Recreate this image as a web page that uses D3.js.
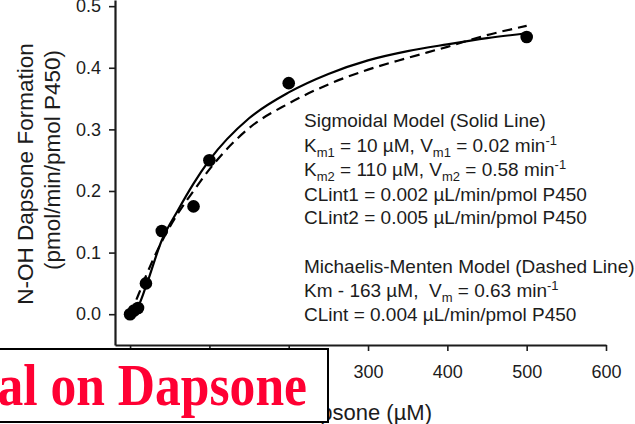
<!DOCTYPE html>
<html lang="en">
<head>
<meta charset="utf-8">
<title>N-OH Dapsone Formation</title>
<script src="https://cdn.jsdelivr.net/npm/d3@7"></script>
<style>
  body { margin: 0; background: #fff; }
  svg { display: block; font-family: "Liberation Sans", Arial, sans-serif; }
</style>
</head>
<body>
<div id="chart"></div>
<script>
const dotConc = [0, 5, 10, 20, 40, 80, 100, 200, 500];
const dotRate = [0.0, 0.006, 0.01, 0.05, 0.135, 0.175, 0.25, 0.375, 0.45];

// sigmoidal model fit (solid line)
const solidConc = [0, 10, 20, 40, 60, 80, 100, 150, 200, 250, 300, 350, 400, 450, 500];
const solidRate = [0.0, 0.012, 0.045, 0.12, 0.168, 0.212, 0.25, 0.318, 0.36, 0.39, 0.412, 0.427, 0.438, 0.448, 0.456];

// michaelis-menten fit (dashed line)
const dashConc = [0, 10, 20, 40, 60, 80, 100, 150, 200, 250, 300, 350, 400, 450, 500];
const dashRate = [0.0, 0.03, 0.062, 0.118, 0.163, 0.2, 0.235, 0.302, 0.342, 0.373, 0.397, 0.416, 0.434, 0.453, 0.468];

const xTicks = [0, 100, 200, 300, 400, 500, 600];
const yTicks = [0.0, 0.1, 0.2, 0.3, 0.4, 0.5];

// annotation text, split into [text, kind] pieces
const noteLines = [
    [["Sigmoidal Model (Solid Line)"]],
    [["K"], ["m1", "sub"], [" = 10 µM, V"], ["m1", "sub"], [" = 0.02 min"], ["-1", "sup"]],
    [["K"], ["m2", "sub"], [" = 110 µM, V"], ["m2", "sub"], [" = 0.58 min"], ["-1", "sup"]],
    [["CLint1 = 0.002 µL/min/pmol P450"]],
    [["CLint2 = 0.005 µL/min/pmol P450"]],
    [["Michaelis-Menten Model (Dashed Line)"]],
    [["Km - 163 µM,\u00a0 V"], ["m", "sub"], [" = 0.63 min"], ["-1", "sup"]],
    [["CLint = 0.004 µL/min/pmol P450"]]
];
const noteY = [127, 152, 176, 201, 224, 273, 297, 321];

const yTitle = ["N-OH Dapsone Formation", "(pmol/min/pmol P450)"];
const xTitle = "Dapsone (µM)";
const banner = "al on Dapsone";

const width = 635;
const height = 424;
const ink = "#1c1c1c";

const svg = d3.select("#chart")
    .append("svg")
    .attr("width", width)
    .attr("height", height);

svg.append("rect")
    .attr("width", width)
    .attr("height", height)
    .attr("fill", "#fff");

const x = d3.scaleLinear().domain([-19, 600]).range([115, 606]);
const y = d3.scaleLinear().domain([-0.05, 0.51]).range([345, 0]);

// axes (labels under the banner are not shown)
const xAxis = svg.append("g")
    .attr("transform", "translate(0,345)")
    .call(d3.axisBottom(x).tickValues(xTicks).tickSize(6).tickPadding(14).tickSizeOuter(0)
        .tickFormat(d => d < 300 ? "" : d));

const yAxis = svg.append("g")
    .attr("transform", "translate(115,0)")
    .call(d3.axisLeft(y).tickValues(yTicks).tickSize(6).tickPadding(8).tickSizeOuter(0).tickFormat(d3.format(".1f")));

[xAxis, yAxis].forEach(g => {
    g.select(".domain").attr("stroke", ink).attr("stroke-width", 2.2);
    g.selectAll(".tick line").attr("stroke", ink).attr("stroke-width", 1.6);
    g.selectAll(".tick text")
        .attr("fill", ink)
        .attr("font-size", 18)
        .attr("font-family", "'Liberation Sans', Arial, sans-serif");
});

// y title
yTitle.forEach((t, i) => {
    svg.append("text")
        .attr("transform", `translate(${[33, 60][i]},${[174, 160][i]}) rotate(-90)`)
        .attr("text-anchor", "middle")
        .attr("font-size", 22.5)
        .attr("fill", ink)
        .text(t);
});

// x title (partly hidden by banner)
svg.append("text")
    .attr("x", 432)
    .attr("y", 420)
    .attr("text-anchor", "end")
    .attr("font-size", 22)
    .attr("fill", ink)
    .text(xTitle);

// fitted curves
const line = d3.line()
    .x(d => x(d[0]))
    .y(d => y(d[1]))
    .curve(d3.curveMonotoneX);

svg.append("path")
    .attr("d", line(d3.zip(solidConc, solidRate)))
    .attr("fill", "none")
    .attr("stroke", "#000")
    .attr("stroke-width", 2.2);

svg.append("path")
    .attr("d", line(d3.zip(dashConc, dashRate)))
    .attr("fill", "none")
    .attr("stroke", "#000")
    .attr("stroke-width", 2.2)
    .attr("stroke-dasharray", "10,6");

// data points
svg.selectAll("circle.pt")
    .data(d3.zip(dotConc, dotRate))
    .enter()
    .append("circle")
    .attr("class", "pt")
    .attr("cx", d => x(d[0]))
    .attr("cy", d => y(d[1]))
    .attr("r", 6.3)
    .attr("fill", "#000");

// annotation block
noteLines.forEach((parts, i) => {
    const txt = svg.append("text")
        .attr("x", 304)
        .attr("y", noteY[i])
        .attr("font-size", 19)
        .attr("fill", ink)
        .attr("xml:space", "preserve");
    let shift = 0;
    parts.forEach(p => {
        const kind = p[1];
        let dy = 0;
        if (kind === "sub") dy = 5 - shift, shift = 5;
        else if (kind === "sup") dy = -7 - shift, shift = -7;
        else dy = -shift, shift = 0;
        txt.append("tspan")
            .attr("dy", dy)
            .attr("font-size", kind ? 13 : 19)
            .text(p[0]);
    });
});

// red banner over the bottom-left corner
svg.append("rect")
    .attr("x", -4)
    .attr("y", 349)
    .attr("width", 332)
    .attr("height", 73)
    .attr("fill", "#fff")
    .attr("stroke", "#000")
    .attr("stroke-width", 2);

svg.append("text")
    .attr("transform", "translate(307,405) scale(0.86,1)")
    .attr("text-anchor", "end")
    .attr("font-family", "'Liberation Serif', 'Times New Roman', serif")
    .attr("font-weight", "bold")
    .attr("font-size", 60)
    .attr("fill", "#ff0033")
    .text(banner);
</script>
</body>
</html>
